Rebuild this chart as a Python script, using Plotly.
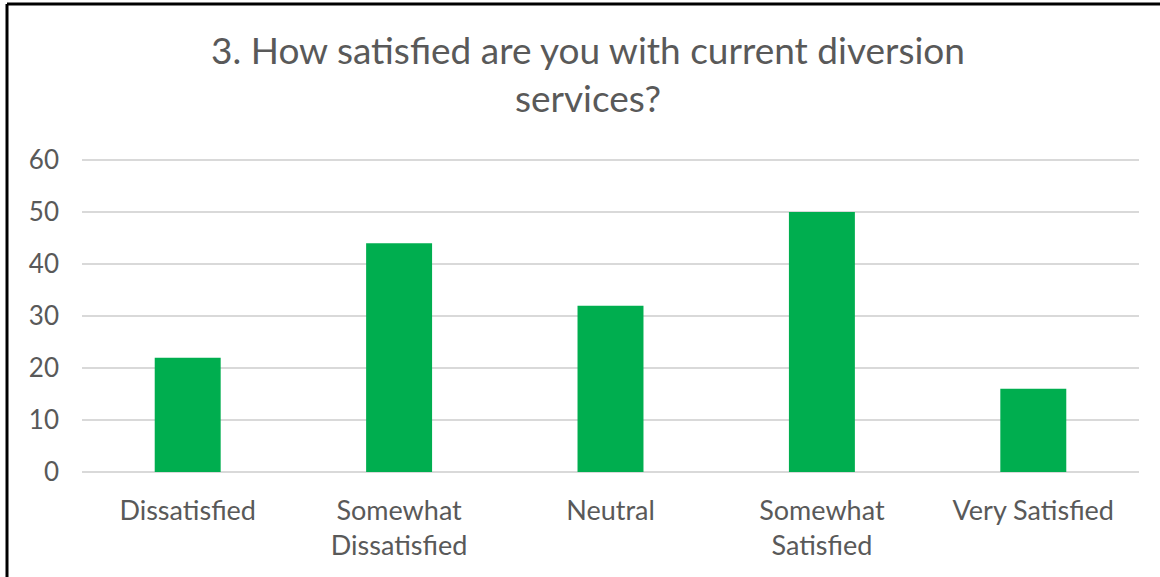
import plotly.graph_objects as go

# Survey responses for question 3
categories = ["Dissatisfied", "Somewhat<br>Dissatisfied", "Neutral",
              "Somewhat<br>Satisfied", "Very Satisfied"]
responses = [22, 44, 32, 50, 16]
y_ticks = [0, 10, 20, 30, 40, 50, 60]

W, H = 1160, 577
L, R, T, B = 82, 21, 158, 105
plot_w = W - L - R
plot_h = H - T - B

TEXT = "#595959"
FONT = "Lato"

fig = go.Figure(
    go.Bar(
        x=categories,
        y=responses,
        marker=dict(color="#00AE4F", line=dict(width=0)),
        hoverinfo="x+y",
    )
)

# frame around the chart (top and left edges visible in the window)
fx = (7 - L) / plot_w
fy_top = (H - B - 4) / plot_h
fy_bot = (H - B - 700) / plot_h
fx_right = (W + 100 - L) / plot_w

fig.update_layout(
    width=W,
    height=H,
    margin=dict(l=L, r=R, t=T, b=B, autoexpand=False),
    paper_bgcolor="white",
    plot_bgcolor="white",
    bargap=0.688,
    showlegend=False,
    font=dict(family=FONT, color=TEXT),
    title=dict(
        text="3. How satisfied are you with current diversion<br>services?",
        x=588 / W,
        xanchor="center",
        xref="container",
        y=1 - 64 / H,
        yanchor="top",
        yref="container",
        font=dict(family=FONT, size=37, color=TEXT),
    ),
    xaxis=dict(
        showgrid=False,
        showline=False,
        zeroline=False,
        ticks="",
        tickfont=dict(family=FONT, size=27, color=TEXT),
        ticklabelstandoff=20,
    ),
    yaxis=dict(
        range=[0, 60.4],
        tickvals=y_ticks,
        showgrid=True,
        gridcolor="#D9D9D9",
        gridwidth=2,
        zeroline=True,
        zerolinecolor="#D9D9D9",
        zerolinewidth=2,
        showline=False,
        ticks="",
        tickfont=dict(family=FONT, size=26, color=TEXT),
        ticklabelstandoff=22,
    ),
    shapes=[
        dict(type="line", xref="paper", yref="paper",
             x0=fx, x1=fx, y0=fy_bot, y1=fy_top,
             line=dict(color="black", width=3)),
        dict(type="line", xref="paper", yref="paper",
             x0=fx, x1=fx_right, y0=fy_top, y1=fy_top,
             line=dict(color="black", width=3)),
    ],
)

fig.write_html("out.html")
